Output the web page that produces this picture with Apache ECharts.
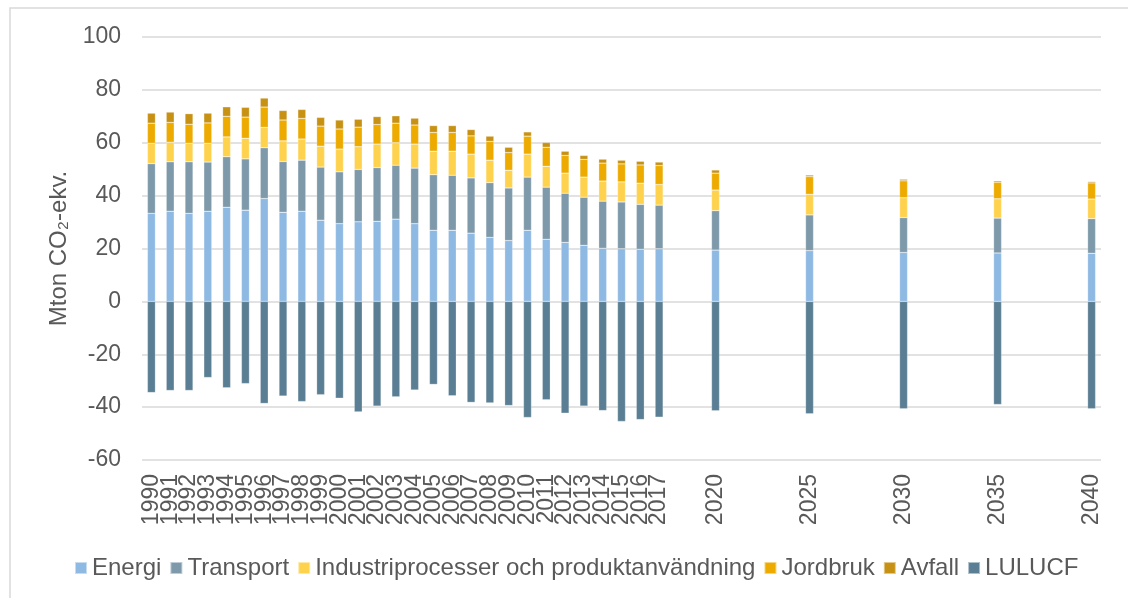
<!DOCTYPE html>
<html>
<head>
<meta charset="utf-8">
<script src="https://cdn.jsdelivr.net/npm/echarts@6/dist/echarts.min.js"></script>
<style>html,body{margin:0;padding:0;background:#fff}#c{width:1128px;height:598px}</style>
</head>
<body>
<div id="c"></div>
<script>
const years = [1990,1991,1992,1993,1994,1995,1996,1997,1998,1999,2000,2001,2002,2003,2004,2005,2006,2007,2008,2009,2010,2011,2012,2013,2014,2015,2016,2017,2020,2025,2030,2035,2040];
const energi    = [33.3,34.1,33.3,34.1,35.6,34.5,38.9,33.7,34.1,30.7,29.4,30.1,30.3,31.1,29.4,26.9,26.9,25.8,24.2,23.0,26.9,23.5,22.3,21.2,20.1,19.9,19.7,19.9,19.4,19.2,18.5,18.3,18.2];
const transport = [18.8,18.7,19.5,18.6,19.1,19.4,19.2,19.2,19.3,20.1,19.6,19.8,20.3,20.4,21.0,21.0,20.8,20.9,20.7,19.9,20.1,19.7,18.6,18.2,17.8,17.7,17.0,16.5,14.9,13.5,13.2,13.2,13.1];
const industri  = [7.7,7.4,7.0,7.1,7.5,7.8,7.7,7.8,8.0,7.9,8.6,8.6,8.9,8.5,9.1,8.9,9.1,9.0,8.5,6.7,8.7,7.9,7.6,7.6,7.6,7.6,8.0,7.8,7.8,7.8,7.5,7.3,7.4];
const jordbruk  = [7.6,7.5,7.2,7.7,7.8,8.0,7.7,7.9,7.8,7.6,7.6,7.4,7.4,7.4,7.2,7.1,7.1,6.9,7.1,6.7,6.8,7.2,6.7,6.7,6.8,6.8,6.9,7.2,6.4,6.7,6.4,6.3,6.1];
const avfall    = [3.8,3.9,4.0,3.7,3.6,3.7,3.4,3.6,3.4,3.3,3.4,3.0,3.0,2.8,2.6,2.6,2.6,2.4,2.0,2.0,1.6,1.8,1.6,1.5,1.5,1.4,1.4,1.3,1.2,0.6,0.6,0.5,0.5];
const lulucf    = [-34.5,-33.7,-33.7,-28.8,-32.7,-31.1,-38.6,-35.8,-37.9,-35.3,-36.6,-41.8,-39.6,-36.1,-33.5,-31.4,-35.7,-38.2,-38.4,-39.4,-43.9,-37.2,-42.3,-39.6,-41.3,-45.4,-44.7,-43.8,-41.4,-42.5,-40.6,-39.0,-40.6];
const seriesNames = ['Energi','Transport','Industriprocesser och produktanvändning','Jordbruk','Avfall','LULUCF'];
const yTicks = [-60,-40,-20,0,20,40,60,80,100];

const firstYear = 1990, lastYear = 2040;
const cats = [];
for (let y = firstYear; y <= lastYear; y++) cats.push(String(y));
function spread(vals){
  const out = cats.map(() => null);
  years.forEach((y,i) => { out[y - firstYear] = vals[i]; });
  return out;
}
const labelSet = new Set(years.map(String));
const colors = ['#8EB9E3','#7D99AA','#FFD24E','#EDAB00','#C79114','#5A7E93'];
const allVals = [energi,transport,industri,jordbruk,avfall,lulucf];
const font = 'Liberation Sans, Arial, sans-serif';

const chart = echarts.init(document.getElementById('c'), null, {renderer:'canvas'});
chart.setOption({
  animation:false,
  backgroundColor:'#fff',
  graphic:[{type:'rect', shape:{x:10,y:8,width:1140,height:620}, style:{fill:'none',stroke:'#d9d9d9',lineWidth:1.5}, silent:true, z:-1}],
  grid:{left:142, right:27, top:37, bottom:138, containLabel:false},
  legend:{
    left:69, top:551, itemWidth:12, itemHeight:12, itemGap:8, icon:'rect',
    textStyle:{fontFamily:font, fontSize:24, color:'#595959'},
    data:seriesNames
  },
  xAxis:{
    type:'category', data:cats,
    axisLine:{show:false, onZero:false}, axisTick:{show:false},
    axisLabel:{interval:0, rotate:90, margin:14, fontFamily:font, fontSize:23, color:'#595959',
      formatter:(v)=> labelSet.has(v) ? v : ''}
  },
  yAxis:{
    type:'value', min:-60, max:100, interval:20,
    name:'Mton CO₂-ekv.', nameLocation:'middle', nameGap:67,
    nameTextStyle:{fontFamily:font, fontSize:24, color:'#595959'},
    axisLine:{show:false}, axisTick:{show:false},
    axisLabel:{margin:21, fontFamily:font, fontSize:23, color:'#595959',
      formatter:(v)=> yTicks.includes(v) ? String(v) : ''},
    splitLine:{lineStyle:{color:'#d9d9d9', width:1.5}}
  },
  series: seriesNames.map((n,i)=>({
    name:n, type:'bar', stack:'total', barWidth:8,
    itemStyle:{color:colors[i], borderColor:'rgba(255,255,255,0.5)', borderWidth:0.5},
    data:spread(allVals[i])
  }))
});
</script>
</body>
</html>
